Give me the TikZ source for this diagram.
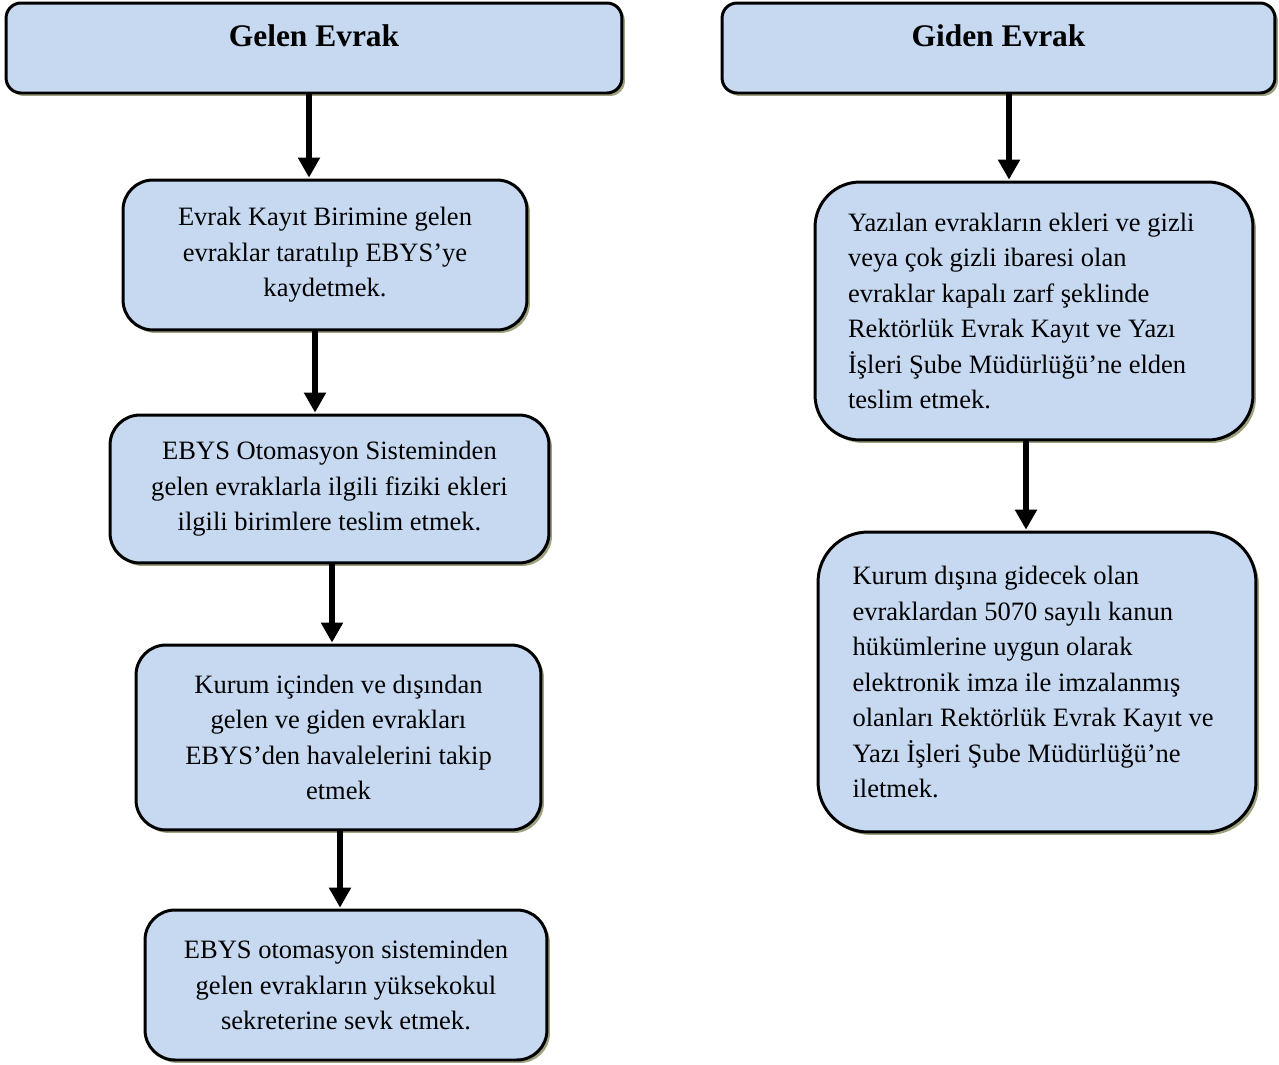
\documentclass[tikz,border=0pt]{standalone}
\usepackage{fontspec}
\setmainfont{Liberation Serif}
\usetikzlibrary{arrows.meta, positioning, calc, shadows}
\definecolor{inkLine}{HTML}{000000}
\definecolor{boxFill}{HTML}{C6D9F1}
\definecolor{shadeCol}{HTML}{9EA27E}
\def\bodyFont{\fontsize{15.1}{20.2}\selectfont}
\def\headFont{\fontsize{17.9}{21}\selectfont\bfseries}

\begin{document}
\begin{tikzpicture}[
    x=0.02cm, y=-0.02cm,
    every node/.style={font=\bodyFont},
    stepbox/.style={draw=inkLine, line width=1.7pt, fill=boxFill,
                    rounded corners=0.6cm, align=center, inner sep=0pt,
                    drop shadow={opacity=1, fill=shadeCol,
                                 shadow xshift=0.06cm, shadow yshift=-0.06cm}},
    headbox/.style={stepbox, rounded corners=0.3cm, font=\headFont,
                    text height=0.35cm, text depth=0.42cm},
    leftbox/.style={stepbox, align=flush left, text width=#1},
    flow/.style={-{Triangle[length=0.4cm,width=0.42cm]}, line width=3.8pt,
                 draw=inkLine, shorten >=0.5pt},
    ]

\useasboundingbox (0,0) rectangle (1279,1065);

% ====================================================================
% Column (a) -- Gelen Evrak
% ====================================================================
\node[headbox, minimum width=12.32cm, minimum height=1.8cm]
  (gelen) at (314,48) {Gelen Evrak};

\node[stepbox, minimum width=8.08cm, minimum height=3.0cm]
  (inA) at (325,255)
  {Evrak Kayıt Birimine gelen\\evraklar taratılıp EBYS’ye\\kaydetmek.};

\node[stepbox, minimum width=8.78cm, minimum height=2.96cm]
  (inB) at (329.5,489)
  {EBYS Otomasyon Sisteminden\\gelen evraklarla ilgili fiziki ekleri\\ilgili birimlere teslim etmek.};

\node[stepbox, minimum width=8.1cm, minimum height=3.7cm]
  (inC) at (338.5,737.5)
  {Kurum içinden ve dışından\\gelen ve giden evrakları\\EBYS’den havalelerini takip\\etmek};

\node[stepbox, minimum width=8.04cm, minimum height=3.0cm]
  (inD) at (346,985)
  {EBYS otomasyon sisteminden\\gelen evrakların yüksekokul\\sekreterine sevk etmek.};

% connectors (straight down)
\draw[flow] ([xshift=-0.1cm]gelen.south) -- ([xshift=-0.1cm]gelen.south |- inA.north);
\draw[flow] ([xshift=-0.2cm]inA.south) -- ([xshift=-0.2cm]inA.south |- inB.north);
\draw[flow] ([xshift=0.05cm]inB.south) -- ([xshift=0.05cm]inB.south |- inC.north);
\draw[flow] ([xshift=0.03cm]inC.south) -- ([xshift=0.03cm]inC.south |- inD.north);

% ====================================================================
% Column (b) -- Giden Evrak
% ====================================================================
\node[headbox, minimum width=11.06cm, minimum height=1.8cm]
  (giden) at (998.5,48) {Giden Evrak};

\node[leftbox=7.44cm, minimum width=8.76cm, minimum height=5.16cm,
      rounded corners=0.9cm]
  (outA) at (1034,311)
  {Yazılan evrakların ekleri ve gizli\\veya çok gizli ibaresi olan\\evraklar kapalı zarf şeklinde\\Rektörlük Evrak Kayıt ve Yazı\\İşleri Şube Müdürlüğü’ne elden\\teslim etmek.};

\node[leftbox=7.38cm, minimum width=8.76cm, minimum height=6.0cm,
      rounded corners=1.0cm]
  (outB) at (1037,682)
  {Kurum dışına gidecek olan\\evraklardan 5070 sayılı kanun\\hükümlerine uygun olarak\\elektronik imza ile imzalanmış\\olanları Rektörlük Evrak Kayıt ve\\Yazı İşleri Şube Müdürlüğü’ne\\iletmek.};

\draw[flow] ([xshift=0.21cm]giden.south) -- ([xshift=0.21cm]giden.south |- outA.north);
\draw[flow] ([xshift=-0.16cm]outA.south) -- ([xshift=-0.16cm]outA.south |- outB.north);

\end{tikzpicture}
\end{document}
